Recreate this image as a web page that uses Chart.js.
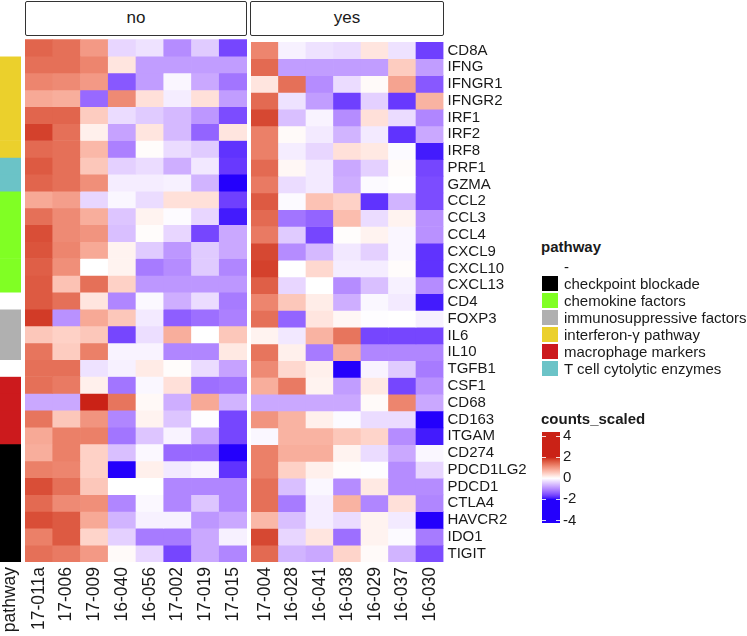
<!DOCTYPE html>
<html>
<head>
<meta charset="utf-8">
<script src="https://cdn.jsdelivr.net/npm/chart.js@4.4.1/dist/chart.umd.min.js"></script>
<style>
body { margin: 0; width: 747px; height: 636px; position: relative; background: #fff; overflow: hidden;
       font-family: 'Liberation Sans', Arial, sans-serif; color: #1a1a1a; }
canvas { position: absolute; }
.strip { position: absolute; top: 1px; height: 35px; box-sizing: border-box; border: 1.5px solid #333;
         border-radius: 2px; font-size: 17px; line-height: 32px; text-align: center; }
.lg { position: absolute; left: 541px; font-size: 15px; line-height: 17px; white-space: nowrap; }
.lg b { font-weight: bold; }
.row { height: 17px; position: relative; }
.sw { position: absolute; left: 1px; top: 1px; width: 16px; height: 15px; }
.row span { position: absolute; left: 23px; top: 0; }
</style>
</head>
<body>
<div class="strip" style="left:25px;width:222px">no</div>
<div class="strip" style="left:250px;width:194px">yes</div>

<canvas id="anno" width="21" height="607" style="left:0;top:29px"></canvas>
<canvas id="heatNo" width="222" height="607" style="left:25px;top:29px"></canvas>
<canvas id="heatYes" width="290" height="607" style="left:251px;top:29px"></canvas>
<canvas id="scaleBar" width="50" height="115" style="left:542px;top:420px"></canvas>

<div class="lg" style="top:238px"><b>pathway</b></div>
<div class="lg" id="pathLegend" style="top:258px"></div>
<div class="lg" style="top:410px"><b>counts_scaled</b></div>

<script>
// Heatmap data
const samplesNo = ['17-011a', '17-006', '17-009', '16-040', '16-056', '17-002', '17-019', '17-015'];
const samplesYes = ['17-004', '16-028', '16-041', '16-038', '16-029', '16-037', '16-030'];
const genes = ['CD8A', 'IFNG', 'IFNGR1', 'IFNGR2', 'IRF1', 'IRF2', 'IRF8', 'PRF1', 'GZMA',
    'CCL2', 'CCL3', 'CCL4', 'CXCL9', 'CXCL10', 'CXCL13', 'CD4', 'FOXP3', 'IL6', 'IL10', 'TGFB1',
    'CSF1', 'CD68', 'CD163', 'ITGAM', 'CD274', 'PDCD1LG2', 'PDCD1', 'CTLA4', 'HAVCR2', 'IDO1', 'TIGIT'];
const genePathway = ['-', 'ifn', 'ifn', 'ifn', 'ifn', 'ifn', 'ifn', 'tcell', 'tcell',
    'chemo', 'chemo', 'chemo', 'chemo', 'chemo', 'chemo', '-', 'immuno', 'immuno', 'immuno', '-',
    'macro', 'macro', 'macro', 'macro', 'check', 'check', 'check', 'check', 'check', 'check', 'check'];

// scaled counts, one row per gene
const valuesNo = [
    [1.5, 1.4, 1.0, -0.35, -0.25, -1.0, -0.45, -1.6],
    [1.4, 1.4, 1.2, 0.25, -0.85, -0.85, -0.85, -0.85],
    [1.2, 1.15, 1.0, -1.45, -0.85, -0.08, -0.75, -1.2],
    [0.85, 0.8, -1.3, 1.15, 0.3, -0.15, 0.3, -0.85],
    [1.5, 1.5, 0.5, -0.3, -0.45, -0.6, -0.9, -1.55],
    [1.8, 1.4, 0.15, -0.8, 0.25, -0.6, -1.35, 0.25],
    [1.45, 1.4, 0.7, -1.1, 0.03, -0.3, -0.45, -1.75],
    [1.6, 1.4, 0.55, -0.4, -0.3, -0.7, -0.2, -1.7],
    [1.5, 1.4, 1.1, -0.15, -0.15, -0.12, -0.65, -2.0],
    [0.85, 0.95, -0.35, -0.07, -0.3, 0.3, 0.3, -1.65],
    [1.4, 1.15, 0.8, -0.5, 0.12, -0.03, -0.35, -1.9],
    [1.7, 1.15, 1.05, -0.55, 0.03, -0.35, -1.6, -0.75],
    [1.65, 1.2, 0.85, 0.12, -0.45, -0.9, -0.45, -0.75],
    [1.55, 1.1, 0.0, 0.12, -1.15, -1.0, -0.45, -1.05],
    [1.6, 0.6, 1.4, 0.45, -0.9, -0.9, -0.9, -0.9],
    [1.6, 1.4, 0.25, -1.05, -0.06, -0.7, -0.3, -1.15],
    [1.85, -0.95, 0.85, 0.55, -0.18, -1.4, -1.25, -1.1],
    [0.55, 0.45, 0.55, -1.6, -0.28, 0.8, 0.0, 0.55],
    [1.35, 0.5, 1.25, -0.1, -0.1, -1.05, -1.05, 0.22],
    [1.4, 1.4, -0.25, -0.12, 0.2, 0.03, -0.3, -0.8],
    [1.4, 1.3, 0.15, -1.2, -0.07, 0.3, -1.25, -1.2],
    [-0.75, -0.75, 2.2, 1.35, 0.06, -0.7, 0.85, -0.65],
    [1.35, 0.55, 1.05, -1.05, 0.12, -0.5, -0.02, -1.6],
    [0.85, 1.25, 1.25, -1.2, -0.5, -0.1, -0.75, -1.6],
    [0.8, 1.25, 0.45, -0.55, -0.06, -1.3, -1.3, -2.1],
    [1.25, 1.2, 0.45, -2.2, 0.15, -0.18, -0.1, -1.75],
    [1.7, 1.4, 0.55, 0.0, 0.0, -1.05, -1.05, -1.05],
    [1.45, 1.15, 1.1, -1.05, -0.06, -1.05, -0.5, -1.05],
    [1.7, 1.6, 0.85, -0.65, -0.12, -0.12, -0.9, -0.75],
    [1.25, 1.6, 0.42, -0.4, -1.15, -1.15, -0.75, -0.12],
    [1.4, 1.3, 1.0, 0.05, -0.35, -1.6, -0.75, -1.05]
];
const valuesYes = [
    [1.2, -0.12, -0.25, -0.3, 0.25, -0.25, -1.65],
    [1.45, -0.85, -0.85, -0.85, -0.85, 0.5, -0.85],
    [0.25, 1.4, -1.0, -0.3, 0.05, 0.9, -1.45],
    [1.45, -0.25, -0.85, -1.65, -0.4, -1.7, 0.75],
    [1.75, -0.55, -0.1, -1.0, 0.3, -0.3, -1.05],
    [1.25, 0.05, -0.18, -0.65, -0.18, -1.75, -0.75],
    [1.25, -0.15, -0.35, 0.3, 0.22, -0.04, -1.9],
    [1.45, 0.08, -0.18, -0.75, -0.4, 0.04, -1.6],
    [1.3, -0.3, -0.18, -0.7, -0.04, 0.01, -1.55],
    [1.6, -0.04, 0.6, 0.45, -1.75, -0.65, -1.55],
    [1.45, -1.2, -1.35, 0.65, -0.3, 0.12, -0.95],
    [1.3, -0.45, -1.6, 0.02, 0.12, -0.08, -0.95],
    [1.75, -1.0, -0.6, -0.2, -0.4, -0.08, -1.75],
    [1.8, 0.0, 0.38, -0.15, -0.15, 0.03, -1.75],
    [1.55, -0.35, 0.0, -1.0, -0.55, -0.12, -1.0],
    [1.2, 0.55, 0.18, -0.7, -0.07, -0.18, -1.9],
    [1.4, -1.35, 0.25, 0.08, -0.02, 0.0, -0.12],
    [0.12, -0.2, 0.75, 1.35, -1.6, -1.6, -1.6],
    [1.35, 0.15, -1.15, 0.8, -1.05, -1.05, -1.05],
    [1.15, 0.38, 0.15, -2.3, -0.1, -0.45, -1.15],
    [0.8, 1.3, 0.12, -0.85, 0.22, -1.6, -0.95],
    [-0.75, -0.75, -0.75, -0.75, 0.05, 1.2, -0.75],
    [1.05, 0.75, 0.15, -0.04, -0.3, -0.3, -2.1],
    [-0.07, 0.75, 0.75, 0.55, 0.42, -1.0, -1.9],
    [1.25, 0.8, 0.8, 0.12, -0.3, -0.75, -0.07],
    [1.25, 0.45, 0.15, 0.03, -0.02, -1.0, -0.35],
    [1.4, -0.55, -0.07, -1.0, 0.22, -1.0, -1.0],
    [1.4, -1.15, -0.15, 0.75, -1.05, 0.3, -1.05],
    [0.7, -0.55, -0.15, -0.3, 0.12, -0.18, -2.05],
    [1.75, -0.35, 0.25, -1.25, 0.12, -0.04, -1.15],
    [1.45, -0.65, -0.75, 0.42, 0.05, -0.65, -1.55]
];

// legend entries for the pathway annotation
const pathwayKeys = ['-', 'check', 'chemo', 'immuno', 'ifn', 'macro', 'tcell'];
const pathwayNames = ['-', 'checkpoint blockade', 'chemokine factors', 'immunosuppressive factors',
    'interferon-\u03b3 pathway', 'macrophage markers', 'T cell cytolytic enzymes'];
const pathwayColors = ['#ffffff', '#000000', '#80ff24', '#b0b0b0', '#ebd02c', '#cc1a1d', '#6bc3c7'];
const scaleTicks = [-4, -2, 0, 2, 4];

const TEXT = '#1a1a1a';
const FONT = "'Liberation Sans', Arial, sans-serif";
const LOW = '#2400fc', MID = '#ffffff', HIGH = '#ca2216';

// colour ramp in LAB space (-2 .. 0 .. 2)
function hexToRgb(h) {
    return [1, 3, 5].map(i => parseInt(h.slice(i, i + 2), 16));
}
function toLab(hex) {
    const lin = hexToRgb(hex).map(c => {
        c /= 255;
        return c <= 0.04045 ? c / 12.92 : Math.pow((c + 0.055) / 1.055, 2.4);
    });
    const X = (0.4124564 * lin[0] + 0.3575761 * lin[1] + 0.1804375 * lin[2]) / 0.95047;
    const Y = 0.2126729 * lin[0] + 0.7151522 * lin[1] + 0.0721750 * lin[2];
    const Z = (0.0193339 * lin[0] + 0.1191920 * lin[1] + 0.9503041 * lin[2]) / 1.08883;
    const f = t => t > 0.008856 ? Math.cbrt(t) : 7.787 * t + 16 / 116;
    return [116 * f(Y) - 16, 500 * (f(X) - f(Y)), 200 * (f(Y) - f(Z))];
}
function fromLab(L, a, b) {
    const fy = (L + 16) / 116, fx = fy + a / 500, fz = fy - b / 200;
    const inv = t => t * t * t > 0.008856 ? t * t * t : (t - 16 / 116) / 7.787;
    const X = 0.95047 * inv(fx), Y = inv(fy), Z = 1.08883 * inv(fz);
    const lin = [
        3.2404542 * X - 1.5371385 * Y - 0.4985314 * Z,
        -0.9692660 * X + 1.8760108 * Y + 0.0415560 * Z,
        0.0556434 * X - 0.2040259 * Y + 1.0572252 * Z
    ];
    const rgb = lin.map(c => {
        c = c <= 0.0031308 ? 12.92 * c : 1.055 * Math.pow(c, 1 / 2.4) - 0.055;
        return Math.round(Math.max(0, Math.min(1, c)) * 255);
    });
    return 'rgb(' + rgb.join(',') + ')';
}
const labLow = toLab(LOW), labMid = toLab(MID), labHigh = toLab(HIGH);
function colorFor(v) {
    v = Math.max(-2, Math.min(2, v));
    const end = v >= 0 ? labHigh : labLow;
    const t = Math.abs(v) / 2;
    return fromLab(labMid[0] + (end[0] - labMid[0]) * t,
                   labMid[1] + (end[1] - labMid[1]) * t,
                   labMid[2] + (end[2] - labMid[2]) * t);
}
function pathColor(key) {
    return pathwayColors[pathwayKeys.indexOf(key)];
}

Chart.defaults.font.family = FONT;
Chart.defaults.color = TEXT;

function heatChart(id, labels, cellColors, showGenes, yWidth) {
    const datasets = genes.map((g, i) => ({
        label: g,
        data: labels.map(() => 1),
        backgroundColor: cellColors(i),
        borderWidth: 0,
        barPercentage: 1,
        categoryPercentage: 1
    }));
    return new Chart(document.getElementById(id), {
        type: 'bar',
        data: { labels: labels, datasets: datasets },
        options: {
            responsive: false,
            animation: false,
            events: [],
            layout: { padding: { top: 10.3, left: 0, right: 0, bottom: 0 } },
            plugins: { legend: { display: false }, tooltip: { enabled: false } },
            scales: {
                x: {
                    stacked: true,
                    grid: { display: false, drawTicks: false },
                    border: { display: false },
                    ticks: { minRotation: 90, maxRotation: 90, autoSkip: false, padding: 5, color: TEXT, font: { size: 17.5 } },
                    // rotated labels fit inside their columns, no side padding needed
                    afterFit: s => { s.height = 74; s.paddingLeft = 0; s.paddingRight = 0; }
                },
                y: {
                    stacked: true,
                    min: 0,
                    max: genes.length,
                    reverse: true,
                    display: showGenes,
                    position: 'right',
                    grid: { display: false, drawTicks: false },
                    border: { display: false },
                    ticks: { autoSkip: false, padding: 4, color: TEXT, font: { size: 15 },
                             callback: (v, i) => genes[i] },
                    afterBuildTicks: s => { s.ticks = genes.map((g, i) => ({ value: i + 0.5 })); },
                    afterFit: s => { s.width = yWidth; }
                }
            }
        }
    });
}

// pathway annotation column
heatChart('anno', ['pathway'], i => [pathColor(genePathway[i])], false, 0);
// two panels
heatChart('heatNo', samplesNo, i => valuesNo[i].map(colorFor), false, 0);
heatChart('heatYes', samplesYes, i => valuesYes[i].map(colorFor), true, 97.5);

// pathway legend
const pl = document.getElementById('pathLegend');
pathwayNames.forEach((name, i) => {
    const row = document.createElement('div');
    row.className = 'row';
    const sw = document.createElement('div');
    sw.className = 'sw';
    sw.style.background = pathwayColors[i];
    const t = document.createElement('span');
    t.textContent = name;
    row.appendChild(sw);
    row.appendChild(t);
    pl.appendChild(row);
});

// colour bar legend
const tickMarks = {
    id: 'tickMarks',
    afterDatasetsDraw(chart) {
        const { ctx, chartArea, scales } = chart;
        ctx.save();
        ctx.strokeStyle = 'rgba(255,255,255,0.85)';
        ctx.lineWidth = 1;
        scaleTicks.forEach(v => {
            if (v === 0) return;
            const y = Math.round(scales.y.getPixelForValue(v)) + 0.5;
            ctx.beginPath();
            ctx.moveTo(chartArea.left, y); ctx.lineTo(chartArea.left + 4, y);
            ctx.moveTo(chartArea.right - 4, y); ctx.lineTo(chartArea.right, y);
            ctx.stroke();
        });
        ctx.restore();
    }
};
new Chart(document.getElementById('scaleBar'), {
    type: 'bar',
    data: {
        labels: [''],
        datasets: [{
            data: [[-4.25, 4.4]],
            borderWidth: 0,
            barPercentage: 1,
            categoryPercentage: 1,
            backgroundColor: ctx => {
                const chart = ctx.chart;
                if (!chart.chartArea) return HIGH;
                const y = chart.scales.y;
                const g = chart.ctx.createLinearGradient(0, y.getPixelForValue(-2), 0, y.getPixelForValue(2));
                for (let k = 0; k <= 40; k++) g.addColorStop(k / 40, colorFor(-2 + k / 10));
                return g;
            }
        }]
    },
    options: {
        responsive: false,
        animation: false,
        events: [],
        layout: { padding: { top: 10.7, bottom: 11.7, left: 0, right: 0 } },
        plugins: { legend: { display: false }, tooltip: { enabled: false } },
        scales: {
            x: { display: false },
            y: {
                min: -4.25,
                max: 4.4,
                position: 'right',
                grid: { display: false, drawTicks: false },
                border: { display: false },
                ticks: { padding: 3, color: TEXT, font: { size: 15 }, callback: v => String(v) },
                afterBuildTicks: s => { s.ticks = scaleTicks.map(v => ({ value: v })); },
                afterFit: s => { s.width = 32; }
            }
        }
    },
    plugins: [tickMarks]
});
</script>
</body>
</html>
